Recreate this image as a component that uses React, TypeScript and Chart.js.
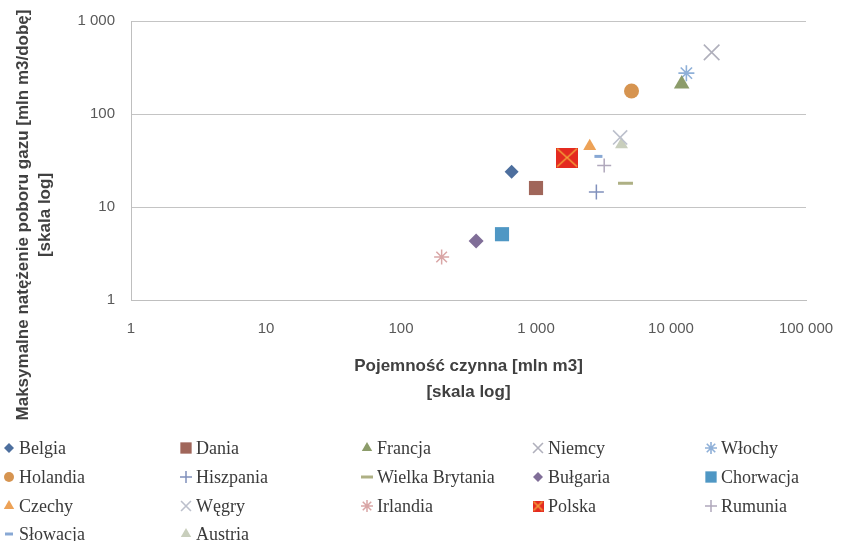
import React, { useEffect, useRef } from 'react';
import { Chart, registerables } from 'chart.js';
import { drawPoint } from 'chart.js/helpers';

Chart.register(...registerables);

// ---- data ----
const countries = [
  'Belgia', 'Dania', 'Francja', 'Niemcy', 'Włochy',
  'Holandia', 'Hiszpania', 'Wielka Brytania', 'Bułgaria', 'Chorwacja',
  'Czechy', 'Węgry', 'Irlandia', 'Polska', 'Rumunia',
  'Słowacja', 'Austria',
];
const capacity = [660, 1000, 12000, 20000, 13000, 5100, 2800, 4600, 360, 560, 2500, 4200, 200, 1700, 3200, 2900, 4300];
const maxFlow = [24, 16, 210, 460, 275, 177, 14.5, 18, 4.3, 5.1, 45, 56, 2.9, 34, 28, 35, 47];
const xTicks = [1, 10, 100, 1000, 10000, 100000];
const yTicks = [1, 10, 100, 1000];
const xTitle = ['Pojemność czynna [mln m3]', '[skala log]'];
const yTitle = ['Maksymalne natężenie poboru gazu [mln m3/dobę]', '[skala log]'];

// ---- marker styles ----
type Mk = { style: any; r: number; color: string; bw: number; lr: number };
const markers: Mk[] = [
  { style: 'rectRot', r: 7, color: '#4D6F9E', bw: 0, lr: 5 },
  { style: 'rect', r: 10, color: '#A0665A', bw: 0, lr: 8 },
  { style: 'triangle', r: 9, color: '#8C9C6A', bw: 0, lr: 6 },
  { style: 'crossRot', r: 11, color: '#B0B0BC', bw: 1.6, lr: 7 },
  { style: 'star', r: 8, color: '#8FB0D8', bw: 1.6, lr: 6 },
  { style: 'circle', r: 7.5, color: '#D69450', bw: 0, lr: 5 },
  { style: 'cross', r: 7.5, color: '#8090BC', bw: 1.5, lr: 6 },
  { style: 'line', r: 7.5, color: '#AEB084', bw: 3, lr: 6 },
  { style: 'rectRot', r: 7.5, color: '#806E98', bw: 0, lr: 5 },
  { style: 'rect', r: 10, color: '#4F97C4', bw: 0, lr: 8 },
  { style: 'triangle', r: 7.5, color: '#EDA257', bw: 0, lr: 6 },
  { style: 'crossRot', r: 10, color: '#BCC0CC', bw: 1.6, lr: 7 },
  { style: 'star', r: 7.5, color: '#D9A6A6', bw: 1.5, lr: 6 },
  { style: 'polska', r: 11, color: '#E42A20', bw: 0, lr: 6 },
  { style: 'cross', r: 7, color: '#B0A8BC', bw: 1.5, lr: 6 },
  { style: 'line', r: 4, color: '#88A8D4', bw: 3, lr: 4 },
  { style: 'triangle', r: 7.5, color: '#C8CEBC', bw: 0, lr: 6 },
];

function makePolska(w: number, h: number) {
  const c = document.createElement('canvas');
  c.width = w;
  c.height = h;
  const g = c.getContext('2d')!;
  g.fillStyle = '#E42A20';
  g.fillRect(0, 0, w, h);
  g.strokeStyle = '#F4A23A';
  g.lineWidth = 1.5;
  g.beginPath();
  g.moveTo(1, 1);
  g.lineTo(w - 1, h - 1);
  g.moveTo(w - 1, 1);
  g.lineTo(1, h - 1);
  g.stroke();
  return c;
}

const fmt = (v: number) => String(v).replace(/\B(?=(\d{3})+(?!\d))/g, ' ');

const legendCols = [9, 186, 367, 538, 711];
const legendRows = [448, 477, 506, 534];

export default function App() {
  const ref = useRef<HTMLCanvasElement | null>(null);
  useEffect(() => {
    document.body.style.margin = '0';
    const polBig = makePolska(22, 20);
    const polSmall = makePolska(11, 11);
    const styleOf = (m: Mk, big: boolean) => (m.style === 'polska' ? (big ? polBig : polSmall) : m.style);

    const datasets = countries.map((name, i) => {
      const m = markers[i];
      return {
        label: name,
        data: [{ x: capacity[i], y: maxFlow[i] }],
        showLine: false,
        pointStyle: styleOf(m, true),
        pointRadius: m.r,
        pointHoverRadius: m.r,
        pointBackgroundColor: m.color,
        pointBorderColor: m.color,
        pointBorderWidth: m.bw,
      };
    });

    const extras = {
      id: 'extras',
      afterDraw(chart: any) {
        const ctx = chart.ctx as CanvasRenderingContext2D;
        // y title
        ctx.save();
        ctx.translate(23, 215);
        ctx.rotate(-Math.PI / 2);
        ctx.fillStyle = '#404040';
        ctx.font = 'bold 17px "Liberation Sans"';
        ctx.textAlign = 'center';
        ctx.textBaseline = 'middle';
        ctx.fillText(yTitle[0], 0, 0);
        ctx.fillText(yTitle[1], 0, 22);
        ctx.restore();
        // legend
        ctx.save();
        countries.forEach((name, i) => {
          const m = markers[i];
          const x = legendCols[i % 5];
          const y = legendRows[Math.floor(i / 5)];
          ctx.fillStyle = m.color;
          ctx.strokeStyle = m.color;
          ctx.lineWidth = m.bw;
          drawPoint(ctx, { pointStyle: styleOf(m, false), rotation: 0, radius: m.lr, borderWidth: m.bw ? Math.min(m.bw, 1.5) : 0 }, x, y);
          ctx.fillStyle = '#3A3A3A';
          ctx.font = '18px "Liberation Serif"';
          ctx.textAlign = 'left';
          ctx.textBaseline = 'middle';
          ctx.fillText(name, x + 10, y + 1);
        });
        ctx.restore();
      },
    };

    const tickFont = { family: '"Liberation Sans"', size: 15 };
    const chart = new Chart(ref.current!, {
      type: 'scatter',
      data: { datasets },
      options: {
        animation: false,
        responsive: false,
        devicePixelRatio: 1,
        layout: { padding: { left: 0, right: 37, top: 21, bottom: 136 } },
        plugins: { legend: { display: false }, tooltip: { enabled: false } },
        scales: {
          x: {
            type: 'logarithmic',
            min: 1,
            max: 100000,
            afterBuildTicks: (s: any) => { s.ticks = xTicks.map((v) => ({ value: v })); },
            afterFit: (s: any) => { s.height = 105; s.paddingLeft = 0; s.paddingRight = 0; },
            ticks: { callback: (v: any) => fmt(Number(v)), font: tickFont, color: '#595959', padding: 20, maxRotation: 0, autoSkip: false },
            grid: { display: false, drawTicks: false },
            border: { display: true, color: '#BFBFBF', width: 1 },
            title: { display: true, text: xTitle, font: { family: '"Liberation Sans"', size: 17, weight: 'bold', lineHeight: 1.5 }, color: '#404040', padding: { top: 0, bottom: 0 } },
          },
          y: {
            type: 'logarithmic',
            min: 1,
            max: 1000,
            afterBuildTicks: (s: any) => { s.ticks = yTicks.map((v) => ({ value: v })); },
            afterFit: (s: any) => { s.width = 131; s.paddingTop = 0; s.paddingBottom = 0; },
            ticks: { callback: (v: any) => fmt(Number(v)), font: tickFont, color: '#595959', padding: 16, autoSkip: false },
            grid: { color: '#C4C4C4', lineWidth: 1, drawTicks: false },
            border: { display: true, color: '#BFBFBF', width: 1 },
          },
        },
      },
      plugins: [extras],
    } as any);
    return () => chart.destroy();
  }, []);
  return (
    <div style={{ width: 843, height: 541 }}>
      <canvas ref={ref} width={843} height={541} />
    </div>
  );
}
